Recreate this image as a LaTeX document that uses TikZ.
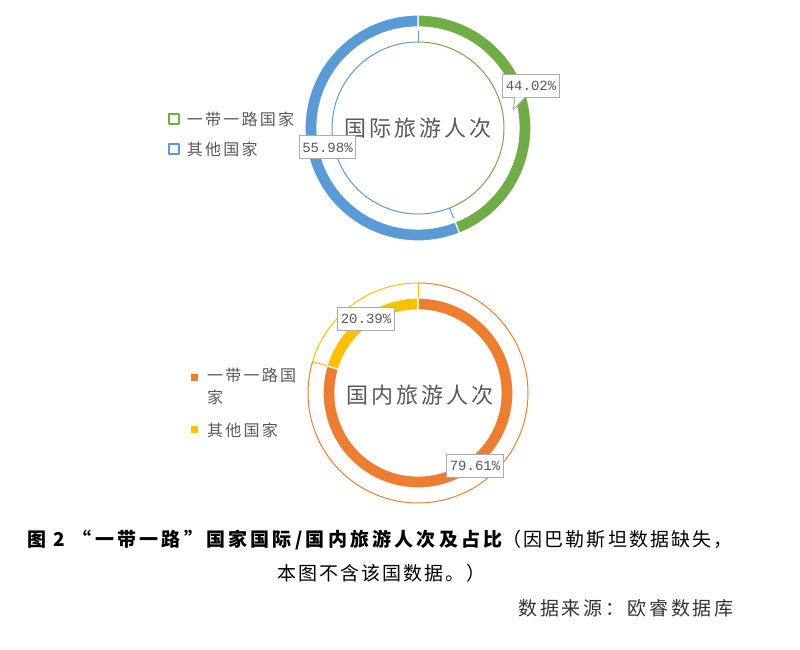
\documentclass[tikz,border=0pt]{standalone}
\usepackage{fontspec}
\setmainfont{Noto Sans CJK SC}
\newfontfamily\numfont{Liberation Mono}
\newfontfamily\wideA[LetterSpace=14]{Noto Sans CJK SC}
\newfontfamily\wideB[LetterSpace=11]{Noto Sans CJK SC}
\newfontfamily\wideC[LetterSpace=15]{Noto Sans CJK SC}
\usetikzlibrary{positioning}
\definecolor{ydgreen}{RGB}{112,173,71}
\definecolor{ydblue}{RGB}{91,155,213}
\definecolor{ydorange}{RGB}{237,125,49}
\definecolor{ydyellow}{RGB}{255,192,0}
\definecolor{txtgray}{RGB}{89,89,89}
\definecolor{boxgray}{RGB}{170,170,170}

\begin{document}
\begin{tikzpicture}[x=1pt,y=1pt,line join=round,node distance=7pt]
  \tikzstyle{pct}=[draw=boxgray,fill=white,line width=1pt,outer sep=0pt,text=txtgray,font=\numfont\fontsize{14}{14}\selectfont,inner sep=3pt,minimum height=23pt]
  \tikzstyle{legend}=[anchor=west,text=txtgray,font=\wideA\fontsize{16}{22}\selectfont,inner sep=0pt]
  \tikzstyle{title}=[text=txtgray,font=\wideA\fontsize{22}{22}\selectfont]
  \tikzstyle{caption}=[anchor=west,inner sep=0pt,font=\wideB\fontsize{19}{19}\selectfont]
  \useasboundingbox (0,0) rectangle (800,650);

  % international: thick outer ring, thin inner ring
  \coordinate (TC) at (418,522);
  \foreach \a/\b/\c in {90/-68.47/ydgreen, -68.47/-270/ydblue}{
    \fill[\c,draw=white,line width=1.2pt] ([shift={(\a:113)}]TC) arc (\a:\b:113)
      -- ([shift={(\b:101)}]TC) arc (\b:\a:101) -- cycle;
    \draw[\c,line width=1pt] ([shift={(\a:86)}]TC) arc (\a:\b:86);
  }
  \foreach \a in {90,-68.47}
    \draw[ydblue,line width=1pt] ([shift={(\a:86)}]TC) -- ([shift={(\a:97)}]TC);
  \node[title] (titleA) at (TC) {国际旅游人次};

  % domestic: thick inner ring, thin outer ring
  \coordinate (BC) at (418,257);
  \foreach \a/\b/\c in {90/-196.6/ydorange, 163.4/90/ydyellow}{
    \fill[\c,draw=white,line width=1.2pt] ([shift={(\a:95)}]BC) arc (\a:\b:95)
      -- ([shift={(\b:83)}]BC) arc (\b:\a:83) -- cycle;
    \draw[\c,line width=1pt] ([shift={(\a:110)}]BC) arc (\a:\b:110);
  }
  \foreach \a in {90,163.4}
    \draw[ydyellow,line width=1pt] ([shift={(\a:95)}]BC) -- ([shift={(\a:110)}]BC);
  \node[title] (titleB) at (420,255) {国内旅游人次};

  % data labels
  \node[pct] (pGreen) at (531,564) {44.02\%};
  \draw[boxgray,line width=1pt,fill=white] ([xshift=-16pt]pGreen.south) -- (513,540) -- ([xshift=-6pt]pGreen.south);
  \draw[white,line width=1.5pt] ([xshift=-15pt,yshift=0.8pt]pGreen.south) -- ([xshift=-7pt,yshift=0.8pt]pGreen.south);
  \node[pct] (pBlue) at (327.5,502.5) {55.98\%};
  \node[pct] (pYellow) at (366,331) {20.39\%};
  \node[pct] (pOrange) at (475,184) {79.61\%};

  % legends
  \node[draw=ydgreen,line width=1.3pt,minimum size=10pt,inner sep=0pt] (sqGreen) at (174,531) {};
  \node[legend,right=of sqGreen] (lgGreen) {一带一路国家};
  \node[draw=ydblue,line width=1.3pt,minimum size=10pt,inner sep=0pt] (sqBlue) at (174,501) {};
  \node[legend,right=of sqBlue] (lgBlue) {其他国家};
  \node[fill=ydorange,minimum size=7pt,inner sep=0pt] (sqOrange) at (194,272) {};
  \node[legend,anchor=north west,align=left] (lgOrange) at (207,282) {一带一路国\\家};
  \node[fill=ydyellow,minimum size=7pt,inner sep=0pt] (sqYellow) at (194,220) {};
  \node[legend,anchor=west] (lgYellow) at (207,220) {其他国家};

  % caption
  \node[caption] (cap1) at (27,110) {{\bfseries\addfontfeatures{LetterSpace=17}图 2 “一带一路”国家国际/国内旅游人次及占比}（因巴勒斯坦数据缺失，};
  \node[caption] (cap2) at (277,77) {本图不含该国数据。）};
  \node[caption,text={black!80},font=\wideC\fontsize{19}{19}\selectfont] (source) at (518,42) {数据来源：欧睿数据库};
\end{tikzpicture}
\end{document}
